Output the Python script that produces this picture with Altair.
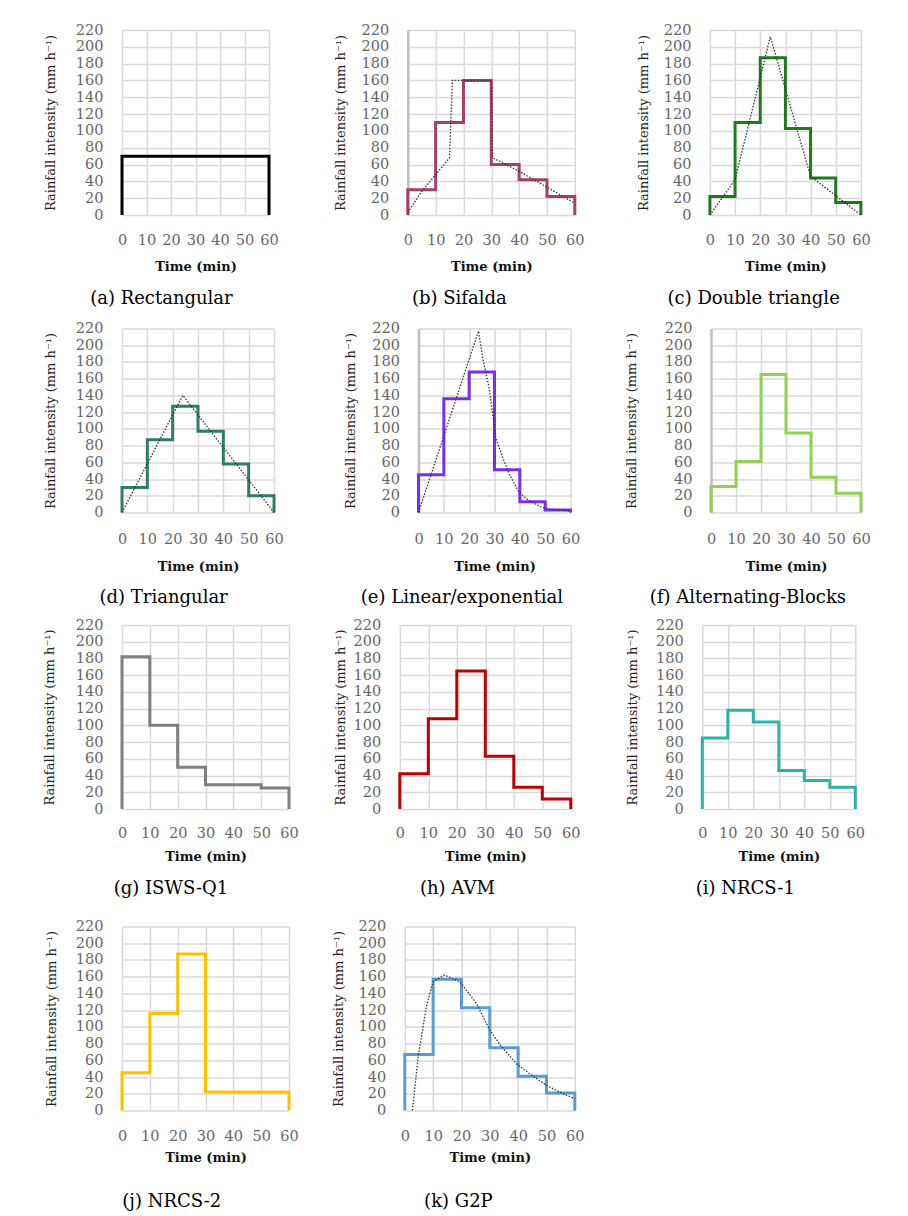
import altair as alt
import pandas as pd

FONT = "DejaVu Serif"
GRID = "#d9d9d9"
LABEL = "#666666"

time_ticks = [0, 10, 20, 30, 40, 50, 60]
intensity_ticks = [0, 20, 40, 60, 80, 100, 120, 140, 160, 180, 200, 220]
block_starts = [0, 10, 20, 30, 40, 50]
block_ends = [10, 20, 30, 40, 50, 60]

# block intensities (mm/h) per 10-min block
rect_vals = [70, 70, 70, 70, 70, 70]
sifalda_vals = [30, 110, 160, 60, 42, 22]
double_tri_vals = [22, 110, 187, 103, 44, 15]
triangular_vals = [30, 87, 127, 97, 58, 20]
linexp_vals = [45, 136, 168, 51, 13, 3]
altblocks_vals = [31, 61, 165, 95, 42, 23]
isws_vals = [182, 100, 50, 29, 29, 25]
avm_vals = [42, 108, 165, 63, 26, 12]
nrcs1_vals = [85, 118, 104, 46, 34, 26]
nrcs2_vals = [45, 116, 187, 22, 22, 22]
g2p_vals = [67, 157, 123, 75, 41, 21]

# dotted continuous curves
sifalda_curve_t = [0, 5, 10, 15, 16, 30, 30.5, 40, 50, 60]
sifalda_curve_v = [3, 28, 48, 68, 160, 160, 68, 52, 33, 14]
double_tri_curve_t = [0, 10, 24, 40, 60]
double_tri_curve_v = [0, 42, 212, 46, 0]
triangular_curve_t = [0, 24, 60]
triangular_curve_v = [0, 140, 0]
linexp_curve_t = [0, 23.7, 25.3, 27.9, 29.5, 30.5, 33.2, 35.8, 39.7, 43.6, 48.9, 54, 60]
linexp_curve_v = [0, 217, 185, 149, 113, 89, 66, 46, 24, 14, 6, 3, 2]
g2p_curve_t = [2.7, 4.7, 7.6, 10, 14, 19.4, 25.3, 30, 34.7, 39.4, 44, 50, 54.7, 60]
g2p_curve_v = [0, 64, 124, 154, 162, 154, 128, 96, 74, 56, 44, 30, 22, 14]


def step_table(vals):
    ts, vs = [block_starts[0]], [0]
    for s, e, v in zip(block_starts, block_ends, vals):
        ts += [s, e]
        vs += [v, v]
    ts.append(block_ends[-1])
    vs.append(0)
    return pd.DataFrame({"t": ts, "v": vs, "i": list(range(len(ts)))})


def curve_table(ts, vs):
    return pd.DataFrame({"t": ts, "v": vs, "i": list(range(len(ts)))})


def panel(vals, color, caption, width, ytp, curve=None, domain=False,
          xlp=18.7, xtp=12.9, cap_off=17.2, height=184):
    x = alt.X("t:Q", scale=alt.Scale(domain=[0, 60], nice=False, zero=False),
              axis=alt.Axis(values=time_ticks, title="Time (min)", grid=True,
                            gridColor=GRID, gridWidth=1.5, ticks=False, tickSize=0,
                            domain=False, labelPadding=xlp, labelFont=FONT,
                            labelFontSize=14.5, labelColor=LABEL, labelFlush=False,
                            labelOverlap=False, titleFont=FONT, titleFontSize=13,
                            titleFontWeight="bold", titleColor="#111111",
                            titlePadding=xtp))
    yaxis = dict(values=intensity_ticks, title="Rainfall intensity (mm h⁻¹)", grid=True,
                 gridColor=GRID, gridWidth=1.5, ticks=False, tickSize=0,
                 labelPadding=19, labelFont=FONT, labelFontSize=14.5,
                 labelColor=LABEL, labelFlush=False, labelOverlap=False,
                 titleFont=FONT, titleFontSize=13, titleFontWeight="normal",
                 titleColor="#222222", titlePadding=ytp, domain=domain)
    if domain:
        yaxis.update(domainColor="#bfbfbf", domainWidth=2.5)
    y = alt.Y("v:Q", scale=alt.Scale(domain=[0, 220], nice=False), axis=alt.Axis(**yaxis))
    layers = [alt.Chart(step_table(vals)).mark_line(
        color=color, strokeWidth=3, strokeJoin="miter").encode(x=x, y=y, order="i:Q")]
    if curve is not None:
        layers.append(alt.Chart(curve_table(*curve)).mark_line(
            color="#333333", strokeWidth=1.3, strokeDash=[1.5, 1.6]).encode(
            x=x, y=y, order="i:Q"))
    return alt.layer(*layers).properties(
        width=width, height=height,
        title=alt.TitleParams(caption, orient="bottom", anchor="middle", frame="bounds",
                              offset=cap_off, font=FONT, fontSize=18,
                              fontWeight="normal", color="#000000"))


r1 = dict(xlp=18.7, xtp=12.9, cap_off=16.8, height=185)
r2 = dict(xlp=19.7, xtp=14.9, cap_off=15.3)
r3 = dict(xlp=17.2, xtp=10.4, cap_off=16.8)
r4 = dict(xlp=18.7, xtp=8.9, cap_off=28.0)

pa = panel(rect_vals, "#000000", "(a)  Rectangular", 147, 17.7, **r1)
pb = panel(sifalda_vals, "#A2406E", "(b) Sifalda", 167, 13.6,
           curve=(sifalda_curve_t, sifalda_curve_v), domain=True, **r1)
pc = panel(double_tri_vals, "#1F7A1F", "(c) Double triangle", 151, 13.0,
           curve=(double_tri_curve_t, double_tri_curve_v), **r1)
pd_ = panel(triangular_vals, "#2D7D6D", "(d) Triangular", 152, 18.3,
            curve=(triangular_curve_t, triangular_curve_v), **r2)
pe = panel(linexp_vals, "#7A2CF5", "(e) Linear/exponential", 152, 14.6,
           curve=(linexp_curve_t, linexp_curve_v), domain=True, **r2)
pf = panel(altblocks_vals, "#92D050", "(f) Alternating-Blocks", 150, 25.6, domain=True, **r2)
pg = panel(isws_vals, "#7F7F7F", "(g)  ISWS-Q1", 167, 18.6, **r3)
ph = panel(avm_vals, "#C00000", "(h)  AVM", 171, 5.3, **r3)
pi = panel(nrcs1_vals, "#2BB3A6", "(i)  NRCS-1", 153, 16.6, **r3)
pj = panel(nrcs2_vals, "#FFC000", "(j)  NRCS-2", 167, 17.0, **r4)
pk = panel(g2p_vals, "#5B9BD5", "(k)  G2P", 170, 12.3,
           curve=(g2p_curve_t, g2p_curve_v), **r4)

row1 = alt.hconcat(pa, alt.hconcat(pb, pc, spacing=52.1), spacing=54.8)
row2 = alt.hconcat(pd_, alt.hconcat(pe, pf, spacing=44.5), spacing=59.5)
row3 = alt.hconcat(pg, alt.hconcat(ph, pi, spacing=44.5), spacing=35.8)
row4 = alt.hconcat(pj, pk, spacing=33.8)

chart = alt.vconcat(
    row1,
    alt.vconcat(row2, alt.vconcat(row3, row4, spacing=20.5), spacing=9.5),
    spacing=12.5,
).properties(
    padding={"left": 35, "top": 14, "right": 5, "bottom": 5},
    background="white",
).configure_view(stroke=None)

chart.save("out.html", embed_options={"renderer": "svg", "actions": False})
